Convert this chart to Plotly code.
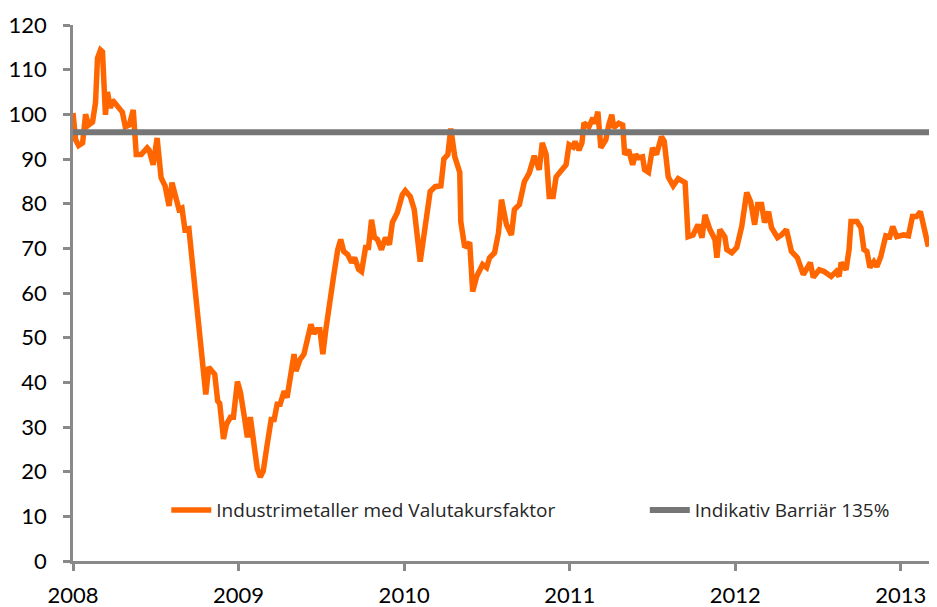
import plotly.graph_objects as go

# decimal-year positions and index values
years = [2008.000, 2008.016, 2008.034, 2008.058, 2008.076, 2008.094, 2008.118, 2008.136, 2008.148, 2008.166,
         2008.178, 2008.196, 2008.208, 2008.226, 2008.238, 2008.268, 2008.298, 2008.316, 2008.340, 2008.364,
         2008.382, 2008.412, 2008.448, 2008.460, 2008.484, 2008.508, 2008.532, 2008.556, 2008.580, 2008.598,
         2008.622, 2008.640, 2008.658, 2008.676, 2008.700, 2008.718, 2008.736, 2008.760, 2008.784, 2008.802,
         2008.820, 2008.838, 2008.856, 2008.874, 2008.886, 2008.909, 2008.927, 2008.951, 2008.969, 2008.993,
         2009.011, 2009.035, 2009.053, 2009.071, 2009.095, 2009.113, 2009.131, 2009.149, 2009.173, 2009.197,
         2009.215, 2009.233, 2009.251, 2009.275, 2009.293, 2009.317, 2009.335, 2009.347, 2009.371, 2009.395,
         2009.419, 2009.437, 2009.455, 2009.473, 2009.491, 2009.509, 2009.527, 2009.551, 2009.575, 2009.599,
         2009.617, 2009.635, 2009.659, 2009.683, 2009.701, 2009.725, 2009.743, 2009.767, 2009.785, 2009.803,
         2009.821, 2009.839, 2009.863, 2009.887, 2009.911, 2009.929, 2009.959, 2009.989, 2010.007, 2010.037,
         2010.061, 2010.097, 2010.121, 2010.139, 2010.157, 2010.187, 2010.222, 2010.240, 2010.264, 2010.282,
         2010.306, 2010.336, 2010.342, 2010.366, 2010.396, 2010.414, 2010.438, 2010.474, 2010.498, 2010.516,
         2010.546, 2010.570, 2010.588, 2010.618, 2010.648, 2010.666, 2010.696, 2010.726, 2010.756, 2010.786,
         2010.816, 2010.834, 2010.858, 2010.876, 2010.900, 2010.918, 2010.948, 2010.978, 2010.996, 2011.020,
         2011.032, 2011.056, 2011.074, 2011.086, 2011.116, 2011.140, 2011.152, 2011.170, 2011.188, 2011.218,
         2011.236, 2011.254, 2011.266, 2011.296, 2011.320, 2011.332, 2011.356, 2011.380, 2011.398, 2011.416,
         2011.440, 2011.452, 2011.476, 2011.500, 2011.524, 2011.554, 2011.571, 2011.595, 2011.625, 2011.655,
         2011.697, 2011.715, 2011.745, 2011.775, 2011.799, 2011.817, 2011.847, 2011.877, 2011.889, 2011.907,
         2011.937, 2011.949, 2011.979, 2012.009, 2012.039, 2012.069, 2012.093, 2012.117, 2012.135, 2012.159,
         2012.177, 2012.201, 2012.219, 2012.255, 2012.279, 2012.309, 2012.339, 2012.375, 2012.411, 2012.435,
         2012.453, 2012.471, 2012.507, 2012.537, 2012.579, 2012.609, 2012.627, 2012.639, 2012.669, 2012.687,
         2012.699, 2012.735, 2012.759, 2012.777, 2012.795, 2012.813, 2012.837, 2012.855, 2012.879, 2012.909,
         2012.933, 2012.951, 2012.975, 2013.016, 2013.046, 2013.070, 2013.094, 2013.118, 2013.148, 2013.166]

metals = [100.3, 94.3, 93.0, 93.6, 100.0, 97.6, 98.3, 102.6, 112.6, 114.4,
          114.0, 99.9, 105.0, 101.4, 103.2, 102.0, 100.5, 97.2, 97.6, 101.0,
          91.0, 91.0, 92.5, 92.0, 88.7, 94.7, 85.8, 84.0, 79.5, 84.7,
          80.9, 78.7, 79.0, 74.2, 74.4, 67.5, 60.8, 51.8, 44.0, 37.3,
          43.4, 42.5, 41.8, 35.8, 35.3, 27.3, 30.6, 32.2, 32.2, 40.2,
          37.8, 32.2, 27.7, 32.2, 25.0, 20.6, 18.8, 20.1, 26.1, 31.7,
          31.7, 35.1, 35.1, 38.0, 36.6, 42.9, 46.3, 42.5, 45.1, 46.3,
          49.6, 53.0, 50.9, 51.8, 51.8, 46.3, 51.8, 59.0, 64.0, 69.7,
          72.0, 69.3, 68.6, 66.8, 67.9, 65.3, 64.8, 70.2, 70.2, 76.4,
          72.4, 72.0, 69.7, 72.4, 70.8, 75.8, 78.0, 82.0, 82.9, 81.6,
          78.7, 67.0, 72.6, 78.0, 82.7, 83.8, 84.0, 90.0, 91.0, 96.8,
          90.5, 87.0, 76.0, 70.2, 71.3, 60.3, 63.7, 66.4, 65.7, 67.9,
          69.0, 73.5, 80.9, 75.3, 73.0, 78.7, 79.8, 84.9, 86.9, 90.7,
          87.6, 93.6, 91.0, 81.6, 81.6, 86.0, 87.2, 88.7, 93.2, 92.7,
          93.9, 92.0, 93.6, 98.1, 97.2, 99.2, 97.9, 100.6, 92.5, 94.3,
          97.7, 99.9, 97.0, 98.0, 97.6, 91.0, 92.0, 88.7, 91.0, 90.3,
          90.5, 87.6, 87.0, 92.5, 91.0, 95.0, 94.0, 86.0, 84.0, 85.6,
          84.7, 72.6, 73.0, 75.3, 72.4, 77.5, 74.2, 72.0, 67.9, 74.2,
          72.6, 69.7, 69.0, 70.2, 74.9, 82.5, 80.4, 75.3, 79.8, 79.8,
          75.8, 78.2, 74.6, 72.4, 73.0, 74.2, 69.3, 67.9, 64.1, 65.9,
          66.8, 63.5, 65.2, 64.8, 63.7, 64.8, 63.7, 66.8, 65.2, 69.7,
          76.0, 76.0, 74.6, 69.7, 69.3, 65.7, 67.0, 65.9, 68.2, 72.8,
          72.6, 74.9, 72.6, 73.0, 72.8, 77.1, 77.1, 78.2, 73.7, 70.4]

barrier_years = [2008.0, 2013.17]
barrier = [96, 96]

x_range = [2008.0, 2013.17]
y_ticks = [0, 10, 20, 30, 40, 50, 60, 70, 80, 90, 100, 110, 120]
x_ticks = [2008, 2009, 2010, 2011, 2012, 2013]
x_tick_labels = ["2008", "2009", "2010", "2011", "2012", "2013"]

name_metals = "Industrimetaller med Valutakursfaktor"
name_barrier = "Indikativ Barriär 135%"

ORANGE = "#FF6600"
GREY = "#767676"
AXIS = "#898989"
FONT = "Lato"
LEG_FONT = "Open Sans"

fig = go.Figure()
fig.add_trace(go.Scatter(x=years, y=metals, mode="lines", name=name_metals,
                         line=dict(color=ORANGE, width=5.5), legend="legend"))
fig.add_trace(go.Scatter(x=barrier_years, y=barrier, mode="lines", name=name_barrier,
                         line=dict(color=GREY, width=6), legend="legend2"))

legend_common = dict(orientation="h", bgcolor="rgba(0,0,0,0)",
                     font=dict(family=LEG_FONT, size=19, color="#262626"),
                     yanchor="middle", xanchor="left", itemwidth=40)

# sized to the visible page area (the page body adds an 8px offset)
fig.update_layout(
    width=921, height=599,
    margin=dict(l=65, r=0, t=17, b=46),
    paper_bgcolor="white", plot_bgcolor="white",
    font=dict(family=FONT, color="black"),
    showlegend=True,
    legend=dict(x=0.109, y=0.095, **legend_common),
    legend2=dict(x=0.668, y=0.095, **legend_common),
)
fig.update_xaxes(range=x_range, tickvals=x_ticks, ticktext=x_tick_labels, automargin=False,
                 showgrid=False, zeroline=False, showline=True, linecolor=AXIS, linewidth=2.5,
                 ticks="outside", ticklen=7, tickwidth=2.5, tickcolor=AXIS,
                 tickfont=dict(family=FONT, size=22, color="black"), ticklabelstandoff=6)
fig.update_yaxes(range=[0, 120], tickvals=y_ticks, automargin=False,
                 showgrid=False, zeroline=False, showline=True, linecolor=AXIS, linewidth=2.5,
                 ticks="outside", ticklen=7, tickwidth=2.5, tickcolor=AXIS,
                 tickfont=dict(family=FONT, size=22, color="black"), ticklabelstandoff=12)

fig.write_html("out.html")
